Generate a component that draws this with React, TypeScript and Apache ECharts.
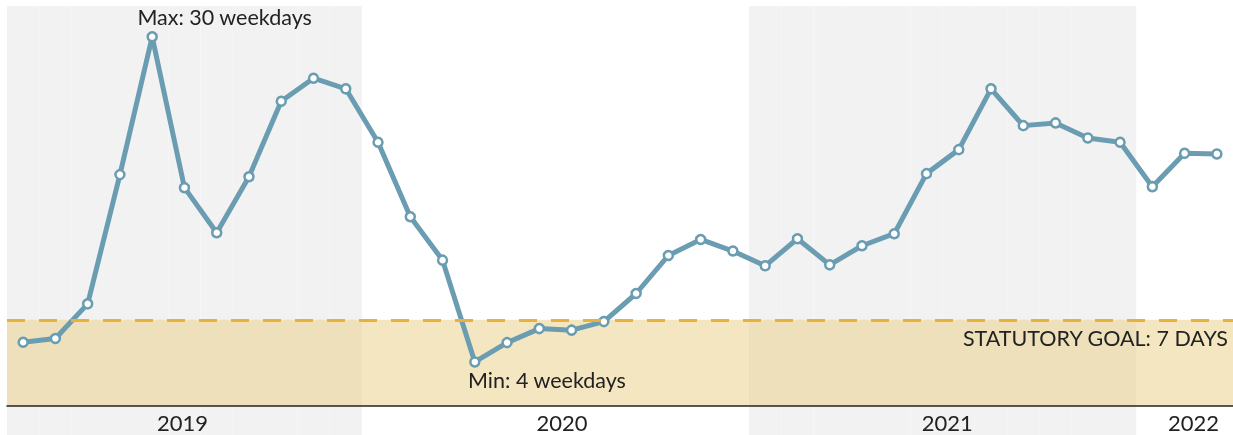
import React, { useEffect, useRef } from "react";
import * as echarts from "echarts";

const categories = [
  "2019-02", "2019-03", "2019-04", "2019-05", "2019-06", "2019-07", "2019-08", "2019-09", "2019-10", "2019-11", "2019-12",
  "2020-01", "2020-02", "2020-03", "2020-04", "2020-05", "2020-06", "2020-07", "2020-08", "2020-09", "2020-10", "2020-11", "2020-12",
  "2021-01", "2021-02", "2021-03", "2021-04", "2021-05", "2021-06", "2021-07", "2021-08", "2021-09", "2021-10", "2021-11", "2021-12",
  "2022-01", "2022-02", "2022-03",
];

const values = [
  5.18, 5.48, 8.3, 18.8, 30.0, 17.74, 14.08, 18.63, 24.76, 26.63, 25.77,
  21.43, 15.38, 11.85, 3.58, 5.15, 6.29, 6.16, 6.86, 9.14, 12.23, 13.53, 12.59,
  11.39, 13.59, 11.47, 13.02, 14.0, 18.88, 20.83, 25.77, 22.78, 23.0, 21.78, 21.43,
  17.82, 20.53, 20.48,
];

const shadedYears = ["2019", "2021"];
const goal = 7;
const goalLabel = "STATUTORY GOAL: 7 DAYS";
// year label placed at this category, with a rich style to nudge it
const yearLabels: { at: string; year: string; style: string }[] = [
  { at: "2019-07", year: "2019", style: "a" },
  { at: "2020-07", year: "2020", style: "b" },
  { at: "2021-07", year: "2021", style: "c" },
  { at: "2022-02", year: "2022", style: "d" },
];

const LINE = "#6a9cb2";
const FONT = "Lato";
const FS = 22;
const FS2 = 21.5;

export default function App() {
  const ref = useRef<HTMLDivElement>(null);
  useEffect(() => {
    document.body.style.overflow = "hidden";
    const chart = echarts.init(ref.current!, null, { renderer: "svg" });
    const maxIdx = values.indexOf(Math.max(...values));
    const minIdx = values.indexOf(Math.min(...values));
    const bandData = categories.map((c) => (shadedYears.includes(c.slice(0, 4)) ? 1 : 0));
    const labelMap = new Map(yearLabels.map((y) => [y.at, y]));
    const lineData = values.map((v, i) => {
      if (i === maxIdx) {
        return {
          value: v,
          label: {
            show: true, position: [-9, -25], align: "left", verticalAlign: "top",
            formatter: `Max: ${Math.round(v)} weekdays`, fontSize: FS2, color: "#222", fontFamily: FONT,
          },
        };
      }
      if (i === minIdx) {
        return {
          value: v,
          label: {
            show: true, position: [-1, 13], align: "left", verticalAlign: "top",
            formatter: `Min: ${Math.round(v)} weekdays`, fontSize: FS2, color: "#222", fontFamily: FONT,
          },
        };
      }
      return v;
    });
    const rs = (pad: number[]) => ({ fontSize: FS, color: "#222", fontFamily: FONT, padding: pad });
    chart.setOption({
      animation: false,
      textStyle: { fontFamily: FONT },
      grid: [
        { left: 7, right: 0, top: 6, bottom: 29 },
        { left: 7, right: 0, top: 6, bottom: 0 },
      ],
      xAxis: [
        {
          type: "category", gridIndex: 0, data: categories, boundaryGap: true, z: 5,
          axisLine: { show: true, lineStyle: { color: "#222", width: 1.5 } },
          axisTick: { show: false },
          splitLine: { show: false },
          axisLabel: {
            interval: (i: number) => labelMap.has(categories[i]),
            formatter: (v: string) => {
              const y = labelMap.get(v);
              return y ? `{${y.style}|${y.year}}` : "";
            },
            margin: 5,
            fontSize: FS,
            color: "#222",
            fontFamily: FONT,
            rich: {
              a: rs([0, 4, 0, 0]),
              b: rs([0, 19, 0, 0]),
              c: rs([0, 23, 0, 0]),
              d: rs([0, 0, 0, 18]),
            },
          },
        },
        { type: "category", gridIndex: 1, data: categories, show: false, boundaryGap: true },
      ],
      yAxis: [
        { type: "value", gridIndex: 0, min: 0, max: 32.5, show: false },
        { type: "value", gridIndex: 1, min: 0, max: 1, show: false },
      ],
      series: [
        {
          type: "bar", xAxisIndex: 1, yAxisIndex: 1, data: bandData, barCategoryGap: "0%",
          itemStyle: { color: "#f2f2f2" }, silent: true, z: 0,
        },
        {
          type: "line", xAxisIndex: 0, yAxisIndex: 0, data: [], z: 1, silent: true,
          markArea: {
            silent: true,
            itemStyle: { color: "rgba(233,205,129,0.5)" },
            data: [[{ yAxis: 0 }, { yAxis: goal }]],
          },
        },
        {
          type: "line", xAxisIndex: 0, yAxisIndex: 0, data: lineData, z: 3,
          symbol: "circle", symbolSize: 9, showAllSymbol: true,
          lineStyle: { color: LINE, width: 5 },
          itemStyle: { color: "#fff", borderColor: LINE, borderWidth: 2.5 },
          label: { show: false },
          labelLayout: { hideOverlap: false },
          markLine: {
            silent: true, symbol: "none",
            lineStyle: { color: "#e8b23a", type: [18, 14], width: 3 },
            label: {
              show: true, position: "insideEndBottom", formatter: goalLabel,
              fontSize: FS2, color: "#222", fontFamily: FONT, distance: [5, 7],
            },
            data: [{ yAxis: goal }],
          },
        },
      ],
    });
    return () => chart.dispose();
  }, []);
  return <div ref={ref} style={{ position: "fixed", left: 0, top: 0, width: 1233, height: 435 }} />;
}
